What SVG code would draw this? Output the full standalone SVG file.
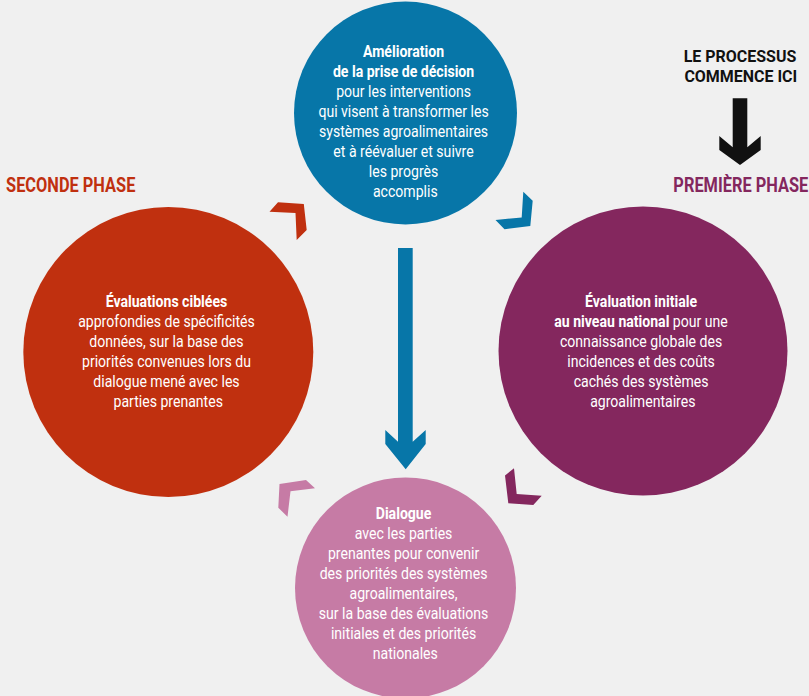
<svg xmlns="http://www.w3.org/2000/svg" width="809" height="696" viewBox="0 0 809 696">
<style>
.t{font-family:Roboto,"Liberation Sans",sans-serif;font-size:16px;fill:#ffffff;text-anchor:middle}
.b{font-weight:bold}
.h{font-family:Roboto,"Liberation Sans",sans-serif;font-size:19.5px;font-weight:bold;text-anchor:middle}
.s{font-family:Roboto,"Liberation Sans",sans-serif;font-size:17px;font-weight:bold;text-anchor:middle;fill:#111111}
</style>
<rect width="809" height="696" fill="#f0f0f0"/>
<g id="connectors">
<polygon points="398,248 412.7,248 412.7,441.7 425.7,430 425.7,444 405.7,469.3 385.3,444 385.3,430 398,441.7" fill="#0776a8"/>
<polygon points="732.7,98.3 747.3,98.3 747.3,147.3 760.7,136 760.7,150 740,165 719.3,150 719.3,136 732.7,147.3" fill="#111111"/>
<polygon points="278,202.3 303.8,204 306.7,230 296.7,240 295.5,213 269.5,211.7" fill="#c0300f"/>
<polygon points="523.3,191.7 532.7,200.7 530.3,226 504.5,229.3 495.5,220 521.7,217.5" fill="#0776a8"/>
<polygon points="505,475.5 514,468.3 516.7,494 541.7,495.8 533.3,505 508.3,503.3" fill="#84275e"/>
<polygon points="279.5,484 306,480 315,488.3 290.5,491.3 287.5,516.7 278.3,507.7" fill="#c67ba5"/>
</g>
<g id="start-label">
<text class="s" transform="translate(740,0) scale(0.94,1)" x="0" y="61.7">LE PROCESSUS</text>
<text class="s" transform="translate(740.8,0) scale(0.94,1)" x="0" y="81.7">COMMENCE ICI</text>
</g>
<g id="phase1-label">
<text class="h" fill="#84275e" transform="translate(740.8,0) scale(0.84,1)" x="0" y="191.7">PREMIÈRE PHASE</text>
</g>
<g id="phase2-label">
<text class="h" fill="#c0300f" transform="translate(70.7,0) scale(0.84,1)" x="0" y="191.7">SECONDE PHASE</text>
</g>
<g id="node-amelioration">
<circle cx="405.5" cy="113" r="111.5" fill="#0776a8"/>
<text class="t" transform="translate(405.3,0) scale(0.88,1)">
<tspan class="b" x="0" y="57.3">Amélioration</tspan>
<tspan class="b" x="0" y="77.3">de la prise de décision</tspan>
<tspan x="0" y="97.3">pour les interventions</tspan>
<tspan x="0" y="117.3">qui visent à transformer les</tspan>
<tspan x="0" y="137.3">systèmes agroalimentaires</tspan>
<tspan x="0" y="157.3">et à réévaluer et suivre</tspan>
<tspan x="0" y="177.3">les progrès</tspan>
<tspan x="0" y="197.3">accomplis</tspan>
</text>
</g>
<g id="node-evaluation-initiale">
<circle cx="643" cy="351" r="144.5" fill="#84275e"/>
<text class="t" transform="translate(642.8,0) scale(0.88,1)">
<tspan class="b" x="0" y="307.3">Évaluation initiale</tspan>
<tspan x="0" y="327.3"><tspan class="b">au niveau national</tspan> pour une</tspan>
<tspan x="0" y="347.3">connaissance globale des</tspan>
<tspan x="0" y="367.3">incidences et des coûts</tspan>
<tspan x="0" y="387.3">cachés des systèmes</tspan>
<tspan x="0" y="407.3">agroalimentaires</tspan>
</text>
</g>
<g id="node-evaluations-ciblees">
<circle cx="168.3" cy="352" r="145" fill="#c0300f"/>
<text class="t" transform="translate(168.2,0) scale(0.88,1)">
<tspan class="b" x="0" y="306.7">Évaluations ciblées</tspan>
<tspan x="0" y="326.7">approfondies de spécificités</tspan>
<tspan x="0" y="346.7">données, sur la base des</tspan>
<tspan x="0" y="366.7">priorités convenues lors du</tspan>
<tspan x="0" y="386.7">dialogue mené avec les</tspan>
<tspan x="0" y="406.7">parties prenantes</tspan>
</text>
</g>
<g id="node-dialogue">
<circle cx="405.5" cy="588" r="110.5" fill="#c67ba5"/>
<text class="t" transform="translate(405.3,0) scale(0.88,1)">
<tspan class="b" x="0" y="519">Dialogue</tspan>
<tspan x="0" y="539">avec les parties</tspan>
<tspan x="0" y="559">prenantes pour convenir</tspan>
<tspan x="0" y="579">des priorités des systèmes</tspan>
<tspan x="0" y="599">agroalimentaires,</tspan>
<tspan x="0" y="619">sur la base des évaluations</tspan>
<tspan x="0" y="639">initiales et des priorités</tspan>
<tspan x="0" y="659">nationales</tspan>
</text>
</g>
</svg>
